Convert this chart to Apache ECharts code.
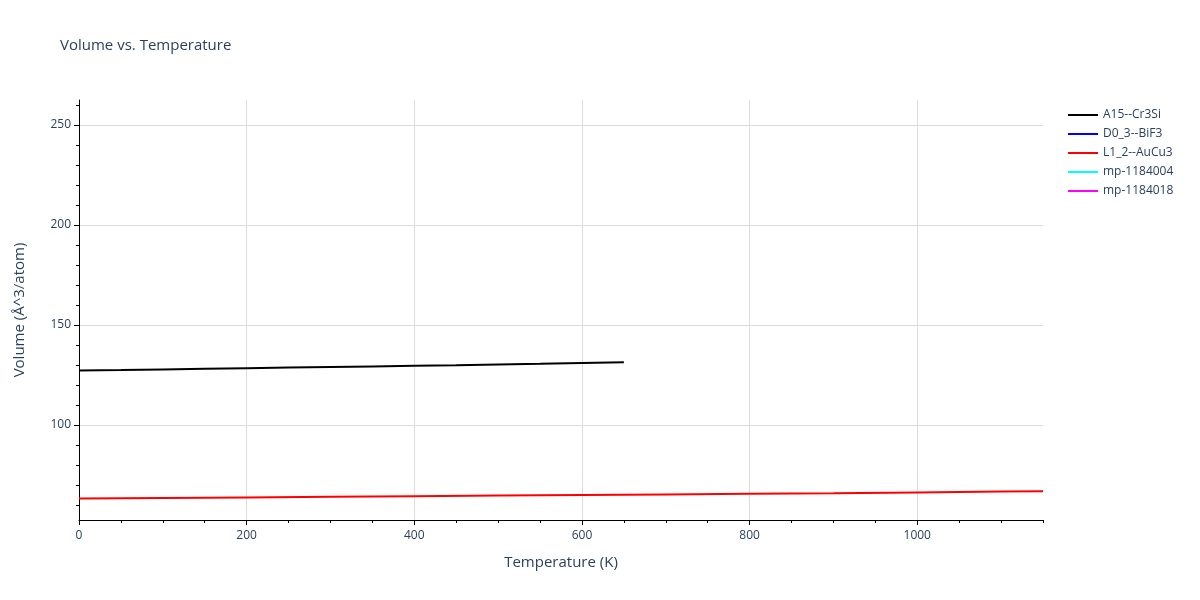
<!DOCTYPE html>
<html>
<head>
<meta charset="utf-8">
<script src="https://cdn.jsdelivr.net/npm/echarts@6/dist/echarts.min.js"></script>
<style>html,body{margin:0;padding:0;background:#fff;}#chart{width:1200px;height:600px;}</style>
</head>
<body>
<div id="chart"></div>
<script>
// ---- data ----
const seriesNames = ['A15--Cr3Si', 'D0_3--BiF3', 'L1_2--AuCu3', 'mp-1184004', 'mp-1184018'];
const seriesColors = ['#000000', '#0000ff', '#ff0000', '#00ffff', '#ff00ff'];
const tempA15 = [0, 50, 100, 150, 200, 250, 300, 350, 400, 450, 500, 550, 600, 650];
const volA15 = [127.3, 127.5, 127.8, 128.1, 128.4, 128.7, 129.0, 129.3, 129.6, 129.9, 130.3, 130.6, 131.0, 131.4];
const tempD03 = [];
const volD03 = [];
const tempL12 = [0, 100, 200, 300, 400, 500, 600, 700, 800, 900, 1000, 1100, 1150];
const volL12 = [63.2, 63.5, 63.8, 64.1, 64.4, 64.7, 65.0, 65.3, 65.6, 65.9, 66.3, 66.7, 66.9];
const temp1184004 = [];
const vol1184004 = [];
const temp1184018 = [];
const vol1184018 = [];
const xMajorTicks = [0, 200, 400, 600, 800, 1000];
const xMinorTicks = [50, 100, 150, 250, 300, 350, 450, 500, 550, 650, 700, 750, 850, 900, 950, 1050, 1100, 1150];
const yMajorTicks = [100, 150, 200, 250];
const yMinorTicks = [60, 70, 80, 90, 110, 120, 130, 140, 160, 170, 180, 190, 210, 220, 230, 240, 260];
const xRange = [0, 1150];
const yRange = [52.5, 262.5];

const zip = (xs, ys) => xs.map((x, i) => [x, ys[i]]);
const allData = [
  zip(tempA15, volA15),
  zip(tempD03, volD03),
  zip(tempL12, volL12),
  zip(temp1184004, vol1184004),
  zip(temp1184018, vol1184018)
];

const txt = '#2a3f5f';
const font = '"Open Sans", "Noto Sans", sans-serif';

const chart = echarts.init(document.getElementById('chart'), null, {renderer: 'canvas'});
chart.setOption({
  animation: false,
  backgroundColor: '#ffffff',
  title: {
    text: 'Volume vs. Temperature',
    left: 55, top: 33,
    textStyle: {fontFamily: font, fontSize: 15, fontWeight: 'normal', color: txt}
  },
  legend: {
    orient: 'vertical',
    left: 1063, top: 103,
    icon: 'rect',
    itemWidth: 30, itemHeight: 2,
    itemGap: 5,
    data: seriesNames,
    textStyle: {fontFamily: font, fontSize: 12, color: txt, lineHeight: 14, padding: [0, 0, 0, 0]}
  },
  grid: {left: 79, right: 157, top: 100, bottom: 80, containLabel: false},
  xAxis: [{
    type: 'value', min: xRange[0], max: xRange[1], position: 'bottom',
    name: 'Temperature (K)', nameLocation: 'middle', nameGap: 35,
    nameTextStyle: {fontFamily: font, fontSize: 15, color: txt},
    axisLine: {show: true, onZero: false, lineStyle: {color: '#000', width: 1}},
    axisTick: {show: true, inside: false, length: 5, customValues: xMajorTicks, lineStyle: {color: '#000'}},
    axisLabel: {customValues: xMajorTicks, formatter: v => String(v), fontFamily: font, fontSize: 12, color: txt, margin: 10},
    splitLine: {show: true, lineStyle: {color: '#dcdcdc', width: 1}}
  }, {
    type: 'value', min: xRange[0], max: xRange[1], position: 'bottom', offset: 0,
    axisLine: {show: false},
    axisTick: {show: true, length: 3, customValues: xMinorTicks, lineStyle: {color: '#000'}},
    axisLabel: {show: false},
    splitLine: {show: false}
  }],
  yAxis: [{
    type: 'value', min: yRange[0], max: yRange[1], position: 'left',
    name: 'Volume (Å^3/atom)', nameLocation: 'middle', nameGap: 52,
    nameTextStyle: {fontFamily: font, fontSize: 15, color: txt},
    axisLine: {show: true, onZero: false, lineStyle: {color: '#000', width: 1}},
    axisTick: {show: true, length: 5, customValues: yMajorTicks, lineStyle: {color: '#000'}},
    axisLabel: {customValues: yMajorTicks, formatter: v => String(v), fontFamily: font, fontSize: 12, color: txt, margin: 8},
    splitLine: {show: true, lineStyle: {color: '#dcdcdc', width: 1}}
  }, {
    type: 'value', min: yRange[0], max: yRange[1], position: 'left', offset: 0,
    axisLine: {show: false},
    axisTick: {show: true, length: 3, customValues: yMinorTicks, lineStyle: {color: '#000'}},
    axisLabel: {show: false},
    splitLine: {show: false}
  }],
  series: seriesNames.map((name, i) => ({
    name: name,
    type: 'line',
    xAxisIndex: 0, yAxisIndex: 0,
    data: allData[i],
    showSymbol: false,
    symbol: 'none',
    clip: true,
    color: seriesColors[i],
    lineStyle: {color: seriesColors[i], width: 2},
    itemStyle: {color: seriesColors[i]}
  }))
});
</script>
</body>
</html>
